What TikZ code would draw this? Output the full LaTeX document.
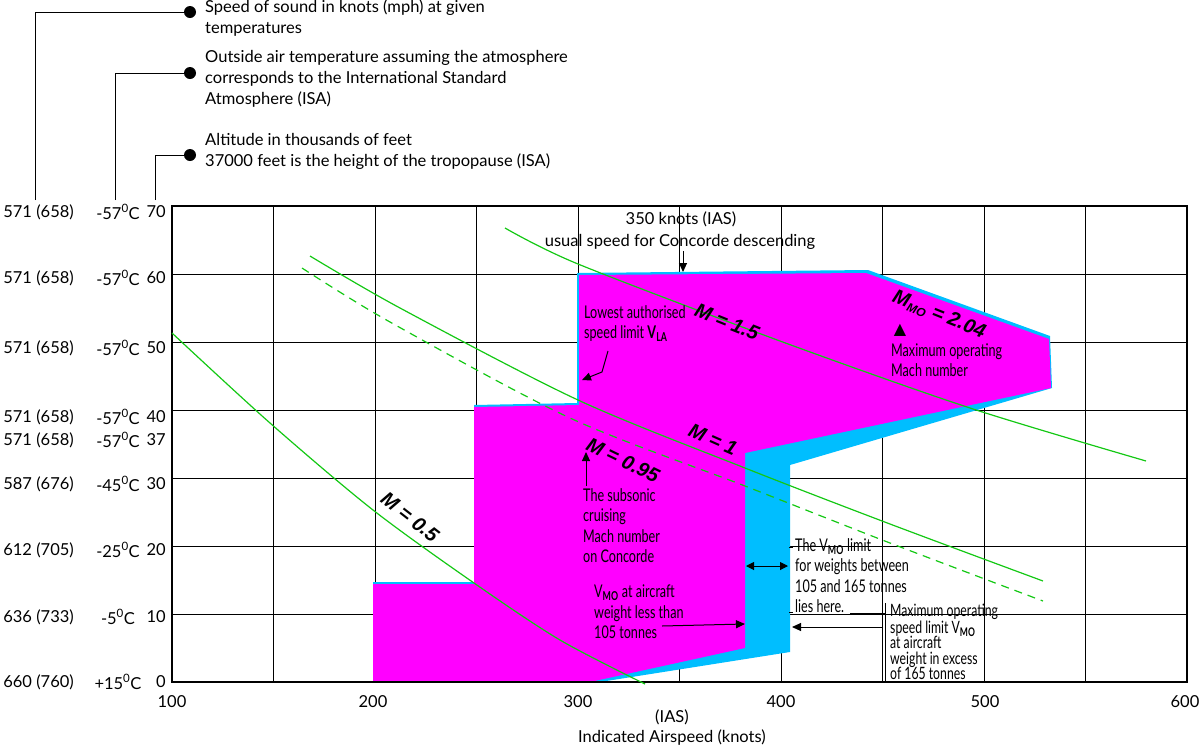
\documentclass[tikz,border=0pt]{standalone}
\usepackage{fontspec}
\setmainfont{Lato}
\newfontfamily\narrow[FakeStretch=0.72]{Lato}
\newfontfamily\mlab{Liberation Sans}
\newfontfamily\dv{DejaVu Sans}
\usetikzlibrary{arrows.meta}
\definecolor{mag}{RGB}{255,0,255}
\definecolor{cy}{RGB}{0,190,255}
\definecolor{gr}{RGB}{20,200,20}
\tikzset{
 lbl/.style={font=\fontsize{16.5}{20}\selectfont,inner sep=0pt},
 ann/.style={font=\narrow\fontsize{17.5}{20.5}\selectfont,inner sep=0pt,align=left,anchor=north west},
 mach/.style={font=\mlab\bfseries\itshape\fontsize{20}{22}\selectfont,inner sep=0pt},
 gline/.style={gr,line width=1.2pt},
 arr/.style={-{Triangle[length=9pt,width=8pt]},line width=1pt},
 dot/.style={circle,fill=black,inner sep=0pt,minimum size=12pt},
}
\begin{document}
\begin{tikzpicture}[x=1pt,y=-1pt]
\useasboundingbox (0,0) rectangle (1200,748);
% grid
\foreach \k in {150,200,...,550}{\draw[line width=0.6pt] ({172+2.03*(\k-100)},206) -- ({172+2.03*(\k-100)},682);}
\foreach \h in {10,20,...,60}{\draw[line width=0.6pt] (172,{682-6.8*\h}) -- (1187,{682-6.8*\h});}
% regions
\fill[cy] (373,682) -- (373,582) -- (474,582) -- (474,405) -- (577,403) -- (577,273) -- (868,270) -- (1050,336) -- (1052,388) -- (790,465) -- (790,652) -- (600,682) -- cycle;
\fill[mag] (373,682) -- (373,584) -- (474,584) -- (474,407) -- (579,405) -- (579,275) -- (866,273) -- (1049,339) -- (1051,388) -- (745,453) -- (745,648) -- (590,682) -- cycle;
\draw[line width=1.5pt] (172,206) rectangle (1187,682);
% green lines
\draw[gline] plot[smooth] coordinates {(172,333) (270,423) (373,510) (474,583) (560,640) (645,684)};
\draw[gline] plot[smooth] coordinates {(310,256) (400,308) (578,400) (745,468) (890,524) (1043,581)};
\draw[gline,dashed,dash pattern=on 8pt off 6pt] plot[smooth] coordinates {(302,268) (390,322) (570,418) (745,486) (890,543) (1043,601)};
\draw[gline] plot[smooth] coordinates {(505,228) (578,264) (780,341) (970,408) (1146,461)};
% mach labels
\node[mach,rotate=-38] (m05) at (410,517) {M = 0.5};
\node[mach,rotate=-26] (m095) at (623,460) {M = 0.95};
\node[mach,rotate=-24] (m1) at (713,439) {M = 1};
\node[mach,rotate=-22] (m15) at (727,322) {M = 1.5};
\node[mach,rotate=-22] (mmo) at (939,315) {M\textsubscript{\fontsize{12}{12}\selectfont MO} = 2.04};
% top annotation
\node[lbl] (t350) at (681,219) {350 knots (IAS)};
\node[lbl] (tusual) at (680,242) {usual speed for Concorde descending};
\coordinate (a350) at (683,272);
\draw[arr] (683,251) -- (a350);
% VLA
\node[ann] (vla) at (584,305) {Lowest authorised\\speed limit \textbf{V}\textsubscript{\textbf{LA}}};
\coordinate (avla) at (582,380);
\draw[arr] (608,351) -- (602,372) -- (avla);
% Mmo
\node[font=\dv\fontsize{16}{16}\selectfont,inner sep=0pt] (tri) at (900,330) {▲};
\node[ann] (mmot) at (891,343) {Maximum operating\\Mach number};
% subsonic
\coordinate (asub) at (586,452);
\draw[arr] (586,486) -- (asub);
\node[ann] (sub) at (583,488) {The subsonic\\cruising\\Mach number\\on Concorde};
% Vmo less
\node[ann] (vless) at (594,585) {V\textsubscript{\textbf{MO}} at aircraft\\weight less than\\105 tonnes};
\coordinate (aless) at (745,624);
\draw[arr] (662,626) -- (aless);
% double arrow
\draw[{Triangle[length=8pt,width=8pt]}-{Triangle[length=8pt,width=8pt]},line width=1pt] (746,566) -- (788,566);
% limit
\node[ann] (lim) at (795,538) {The V\textsubscript{\textbf{MO}} limit\\for weights between\\105 and 165 tonnes\\lies here.};
\draw[line width=0.6pt] (789,547) -- (793,547);
\draw[line width=0.6pt] (789,612) -- (793,612);
\draw[line width=0.8pt] (850,613) -- (885,613);
\draw[line width=0.8pt] (885,603) -- (885,682);
\node[ann,font=\narrow\fontsize{17}{15.5}\selectfont] (vmax) at (890,604) {Maximum operating\\speed limit V\textsubscript{\textbf{MO}}\\at aircraft\\weight in excess\\of 165 tonnes};
\coordinate (amax) at (792,627);
\draw[arr] (883,627) -- (amax);
% axis labels
\foreach \t/\x in {100/172,200/373,300/578,400/781,500/985,600/1185}{\node[lbl] at (\x,702) {\t};}
\node[lbl] (ias) at (672,717) {(IAS)};
\node[lbl] (iasl) at (672,738) {Indicated Airspeed (knots)};
\foreach \y/\a/\s/\c in {212/571 (658)/-57/70, 278/571 (658)/-57/60, 348/571 (658)/-57/50, 417/571 (658)/-57/40, 440/571 (658)/-57/37, 484/587 (676)/-45/30, 550/612 (705)/-25/20, 617/636 (733)/-5/10, 682/660 (760)/+15/0}{
 \node[lbl,anchor=east] at (74,\y) {\a};
 \node[lbl] at (118,\y) {\s\textsuperscript{0}C};
 \node[lbl,anchor=east] at (166,\y) {\c};
}
% legend
\node[dot] (d1) at (190,12) {};
\node[dot] (d2) at (190,73) {};
\node[dot] (d3) at (190,155) {};
\draw[line width=0.8pt] (35,200) -- (35,12) -- (d1);
\draw[line width=0.8pt] (115,200) -- (115,73) -- (d2);
\draw[line width=0.8pt] (155,200) -- (155,155) -- (d3);
\node[lbl,anchor=north west,align=left,font=\fontsize{16.5}{21}\selectfont] (l1) at (205,-1) {Speed of sound in knots (mph) at given\\temperatures};
\node[lbl,anchor=north west,align=left,font=\fontsize{16.5}{21}\selectfont] (l2) at (205,50) {Outside air temperature assuming the atmosphere\\corresponds to the International Standard\\Atmosphere (ISA)};
\node[lbl,anchor=north west,align=left,font=\fontsize{16.5}{21}\selectfont] (l3) at (205,133) {Altitude in thousands of feet\\37000 feet is the height of the tropopause (ISA)};
\end{tikzpicture}
\end{document}
